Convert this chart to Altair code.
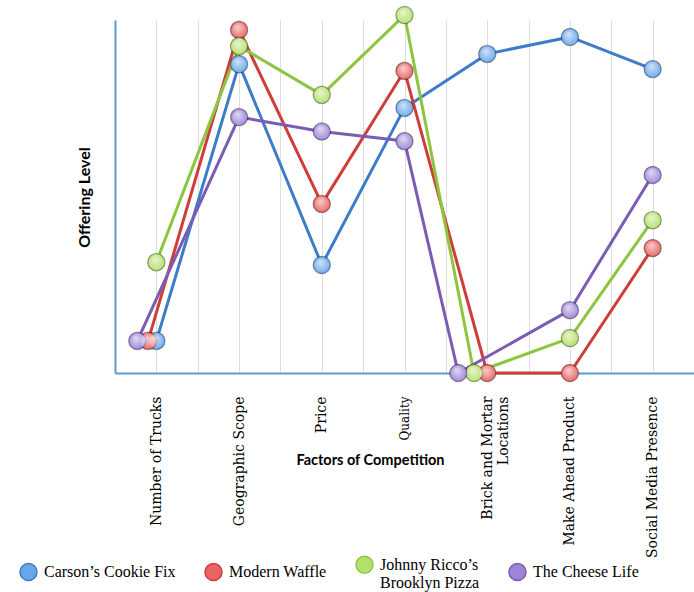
import json
import textwrap
import altair as alt
import pandas as pd

# ---------------- data ----------------
categories = ["Number of Trucks", "Geographic Scope", "Price", "Quality",
              "Brick and Mortar Locations", "Make Ahead Product", "Social Media Presence"]
series_names = ["Carson’s Cookie Fix", "Modern Waffle",
                "Johnny Ricco’s Brooklyn Pizza", "The Cheese Life"]

carsons_values = [0.91, 8.75, 3.06, 7.51, 9.04, 9.52, 8.61]
waffle_values = [0.91, 9.72, 4.79, 8.56, 0.0, 0.0, 3.54]
johnny_values = [3.14, 9.26, 7.88, 10.14, 0.0, 0.99, 4.33]
cheese_values = [0.91, 7.25, 6.84, 6.57, 0.0, 1.78, 5.61]

# small sideways displacement of overlapping markers, in category units
carsons_shift = [0, 0, 0, 0, 0, 0, 0]
waffle_shift = [-0.1, 0, 0, 0, 0, 0, 0]
johnny_shift = [0, 0, 0, 0, -0.16, 0, 0]
cheese_shift = [-0.23, 0, 0, 0, -0.35, 0, 0]

line_colors = ["#3d7cc9", "#cf3d3a", "#8cc63f", "#7b5cb3"]
fill_colors = ["#6aa6e8", "#e66462", "#b3e06a", "#9d84d6"]

all_values = [carsons_values, waffle_values, johnny_values, cheese_values]
all_shifts = [carsons_shift, waffle_shift, johnny_shift, cheese_shift]

rows = []
for s_idx, (name, vals, shifts) in enumerate(zip(series_names, all_values, all_shifts)):
    for c_idx, (v, sh) in enumerate(zip(vals, shifts)):
        rows.append({"series": name, "s": s_idx, "cat": c_idx,
                     "pos": c_idx + sh, "value": v})
df = pd.DataFrame(rows)

# ---------------- label expressions ----------------
def wrapped(txt, width=22):
    parts = textwrap.wrap(txt, width)
    return parts if len(parts) > 1 else txt

cat_labels = json.dumps([wrapped(c) for c in categories], ensure_ascii=False)
x_label_expr = f"datum.value % 1 != 0 ? '' : {cat_labels}[datum.value]"

legend_expr = "datum.label"
for name in series_names:
    w = wrapped(name)
    if isinstance(w, list):
        legend_expr = (f"datum.label == {json.dumps(name, ensure_ascii=False)} ? "
                       f"{json.dumps(w, ensure_ascii=False)} : ({legend_expr})")

tick_vals = [i / 2 - 0.5 for i in range(2 * len(categories) + 1)]

x_enc = alt.X(
    "pos:Q",
    scale=alt.Scale(domain=[-0.5, len(categories) - 0.5], nice=False, zero=False),
    axis=alt.Axis(
        values=tick_vals,
        grid=True, gridColor="#dedede", gridWidth=1,
        ticks=False,
        domainColor="#5b9bd5", domainWidth=2,
        labelExpr=x_label_expr,
        labelAngle=-90, labelAlign="right", labelBaseline="middle",
        labelFont="DejaVu Serif",
        labelFontSize={"condition": {"test": "datum.value == 3", "value": 12}, "value": 14},
        labelColor="#000000", labelPadding=23, labelLimit=300,
        labelOverlap=False,
        title="Factors of Competition",
        titleFont="Lato", titleFontSize=14.5, titleFontWeight="bold", titleColor="#000000",
        titleX=255, titleY=87, titleAlign="center", titleBaseline="middle", titleAngle=0,
    ),
)
y_enc = alt.Y(
    "value:Q",
    scale=alt.Scale(domain=[0, 10], nice=False),
    axis=alt.Axis(
        labels=False, ticks=False, grid=False,
        domainColor="#5b9bd5", domainWidth=2,
        title="Offering Level",
        titleFont="Lato", titleFontSize=16, titleFontWeight="bold", titleColor="#000000",
        titleX=-31, titleY=177, titleAngle=-90, titleAlign="center", titleBaseline="middle",
    ),
)

legend_cfg = alt.Legend(
    orient="none", legendX=-96, legendY=535,
    direction="horizontal", title=None,
    symbolType="circle", symbolSize=290, symbolStrokeWidth=1.5,
    labelExpr=legend_expr,
    labelFont="Liberation Serif", labelFontSize=16,
    labelColor="#000000", labelOffset=6, labelLimit=300,
    columnPadding=25,
)

base = alt.Chart(df)

lines = base.mark_line(strokeWidth=3, strokeJoin="round").encode(
    x=x_enc, y=y_enc,
    stroke=alt.Stroke("series:N", scale=alt.Scale(domain=series_names, range=line_colors),
                      legend=legend_cfg),
    detail="series:N",
    order="cat:Q",
)

points = base.mark_point(filled=True, shape="circle", size=300, opacity=1,
                         stroke="rgba(0,0,0,0.35)", strokeWidth=1.2).encode(
    x=x_enc, y=y_enc,
    color=alt.Color("series:N", scale=alt.Scale(domain=series_names, range=fill_colors),
                    legend=legend_cfg),
)

highlight = base.mark_point(
    filled=True, shape="circle", size=230, opacity=1,
    fill=alt.RadialGradient(
        gradient="radial", x1=0.4, y1=0.3, r1=0.0, x2=0.5, y2=0.5, r2=0.65,
        stops=[alt.GradientStop(offset=0, color="rgba(255,255,255,0.7)"),
               alt.GradientStop(offset=1, color="rgba(255,255,255,0)")],
    ),
    strokeWidth=0,
).encode(x=x_enc, y=y_enc)

chart = alt.layer(lines, points, highlight).properties(
    width=579, height=353,
    autosize=alt.AutoSizeParams(type="none"),
    padding={"left": 115, "top": 20, "right": 0, "bottom": 219},
    background="white",
).configure_view(stroke=None)

chart.save("out.html", embed_options={"renderer": "svg", "actions": False})
